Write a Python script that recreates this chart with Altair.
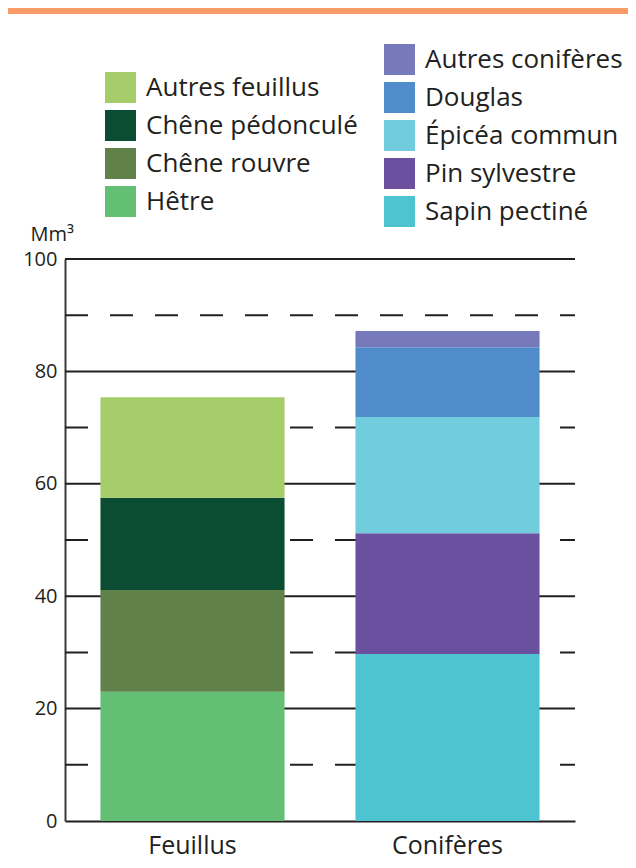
import altair as alt
import pandas as pd

# ---- data ----
groups = ["Feuillus", "Conifères"]

feu_species = ["Hêtre", "Chêne rouvre", "Chêne pédonculé", "Autres feuillus"]
feu_values = [23.0, 18.1, 16.4, 17.9]
feu_colors = ["#62BF73", "#60814A", "#0B4D32", "#A5CD6A"]
feu_legend = ["Autres feuillus", "Chêne pédonculé", "Chêne rouvre", "Hêtre"]

con_species = ["Sapin pectiné", "Pin sylvestre", "Épicéa commun", "Douglas", "Autres conifères"]
con_values = [29.7, 21.5, 20.7, 12.4, 2.9]
con_colors = ["#4EC4D0", "#6B50A0", "#71CCDE", "#508CCA", "#7679BA"]
con_legend = ["Autres conifères", "Douglas", "Épicéa commun", "Pin sylvestre", "Sapin pectiné"]

solid_grid = [20, 40, 60, 80, 100]
dashed_grid = [10, 30, 50, 70, 90]

FONT = "Open Sans"
INK = "#231F20"

feu_df = pd.DataFrame({"groupe": "Feuillus", "espece": feu_species,
                       "volume": feu_values, "ordre": range(len(feu_species))})
con_df = pd.DataFrame({"groupe": "Conifères", "espece": con_species,
                       "volume": con_values, "ordre": range(len(con_species))})

feu_color_map = dict(zip(feu_species, feu_colors))
con_color_map = dict(zip(con_species, con_colors))

x_enc = alt.X("groupe:N", sort=groups,
              scale=alt.Scale(domain=groups, paddingInner=0.278, paddingOuter=0.139),
              axis=alt.Axis(title=None, labelFontSize=25, labelFont=FONT, labelColor=INK,
                            labelPadding=12, ticks=False, domainColor=INK, domainWidth=2,
                            labelAngle=0))
y_scale = alt.Scale(domain=[0, 100], nice=False)
y_axis = alt.Axis(title="Mm³", titleAngle=0, titleAlign="left", titleBaseline="alphabetic",
                  titleX=-35, titleY=-19, titleFontSize=20, titleFontWeight="normal",
                  titleFont=FONT, titleColor=INK,
                  values=[0, 20, 40, 60, 80, 100], labelFontSize=20, labelFont=FONT,
                  labelColor=INK, labelPadding=8, ticks=False, grid=False,
                  domainColor="#3a3a3a", domainWidth=2)

solid = alt.Chart(pd.DataFrame({"v": solid_grid})).mark_rule(color=INK, strokeWidth=2).encode(
    y=alt.Y("v:Q", scale=y_scale, axis=y_axis), x=alt.value(0), x2=alt.value(510))
dashed = alt.Chart(pd.DataFrame({"v": dashed_grid})).mark_rule(
    color=INK, strokeWidth=2, strokeDash=[23, 22]).encode(
    y=alt.Y("v:Q", scale=y_scale), x=alt.value(0), x2=alt.value(510))

legend_common = dict(title=None, orient="none", symbolType="square", symbolSize=961,
                     symbolStrokeWidth=0, labelFontSize=26, labelFont=FONT, labelColor=INK,
                     labelOffset=10, rowPadding=7, padding=0, labelLimit=300)

feu_bars = alt.Chart(feu_df).mark_bar().encode(
    x=x_enc,
    y=alt.Y("volume:Q", stack="zero", scale=y_scale),
    order=alt.Order("ordre:Q", sort="ascending"),
    color=alt.Color("espece:N",
                    scale=alt.Scale(domain=feu_legend, range=[feu_color_map[s] for s in feu_legend]),
                    legend=alt.Legend(legendX=40, legendY=-187, **legend_common)),
)
con_bars = alt.Chart(con_df).mark_bar().encode(
    x=x_enc,
    y=alt.Y("volume:Q", stack="zero", scale=y_scale),
    order=alt.Order("ordre:Q", sort="ascending"),
    fill=alt.Fill("espece:N",
                  scale=alt.Scale(domain=con_legend, range=[con_color_map[s] for s in con_legend]),
                  legend=alt.Legend(legendX=319, legendY=-215, **legend_common)),
)

band = alt.Chart(pd.DataFrame({"a": [0]})).mark_rect(color="#F99B67").encode(
    x=alt.value(-57), x2=alt.value(563), y=alt.value(-251), y2=alt.value(-245))

chart = alt.layer(band, solid, dashed, feu_bars, con_bars).resolve_scale(
    color="independent", fill="independent"
).properties(
    width=510, height=562,
    autosize=alt.AutoSizeParams(type="none"),
    padding={"left": 57, "top": 251, "right": 53, "bottom": 39},
    background="white",
).configure_view(stroke=None)

chart.save("out.html", embed_options={"renderer": "svg", "actions": False})
